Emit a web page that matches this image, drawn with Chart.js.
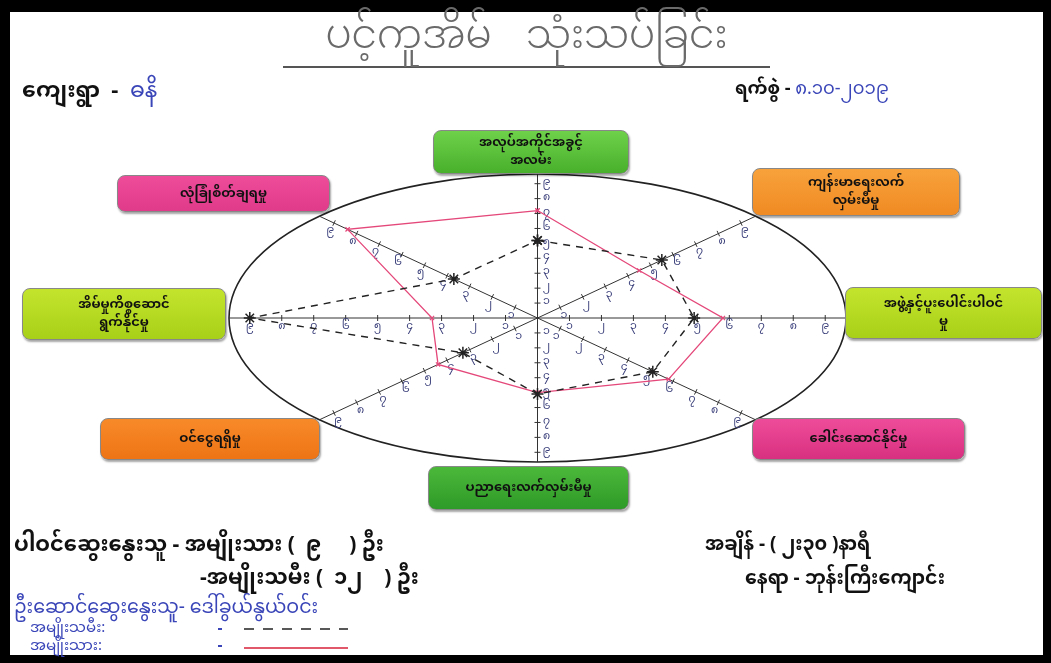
<!DOCTYPE html>
<html lang="my">
<head>
  <meta charset="UTF-8">
  <title>ပင့်ကူအိမ် သုံးသပ်ခြင်း</title>
  <script src="https://cdn.jsdelivr.net/npm/chart.js"></script>
  <style>
    html, body { margin: 0; padding: 0; }
    body { width: 1051px; height: 663px; background: #000; position: relative; overflow: hidden;
           font-family: "Noto Sans Myanmar", "Padauk", "Myanmar Text", "Noto Sans", sans-serif; }
    #paper { position: absolute; left: 10px; top: 12px; width: 1033px; height: 643px; background: #fff; }
    #spider { position: absolute; left: 0; top: 0; }
    .box { position: absolute; border-radius: 8px; border: 1px solid #888; box-shadow: 1px 2px 2px rgba(0,0,0,0.35);
           display: flex; align-items: center; justify-content: center; text-align: center;
           font-size: 13px; font-weight: bold; line-height: 18px; color: #111; }
    .txt { position: absolute; white-space: pre; color: #111; }
    .blue { color: #3a46b8; font-weight: normal; }
  </style>
</head>
<body>
  <div id="paper"></div>
  <canvas id="spider" width="1051" height="663"></canvas>
  <div id="labels"></div>
  <script>
    const categories = [
      'အလုပ်အကိုင်အခွင့်\nအလမ်း',
      'ကျန်းမာရေးလက်\nလှမ်းမီမှု',
      'အဖွဲ့နှင့်ပူးပေါင်းပါဝင်\nမှု',
      'ခေါင်းဆောင်နိုင်မှု',
      'ပညာရေးလက်လှမ်းမီမှု',
      'ဝင်ငွေရရှိမှု',
      'အိမ်မှုကိစ္စဆောင်\nရွက်နိုင်မှု',
      'လုံခြုံစိတ်ချရမှု'
    ];
    const womenValues = [5.2, 5.5, 4.9, 5.1, 5.1, 3.3, 9.0, 3.7];
    const menValues = [7.2, 4.5, 5.8, 5.8, 5.0, 4.4, 3.3, 8.4];
    const tickLabels = ['၁', '၂', '၃', '၄', '၅', '၆', '၇', '၈', '၉'];
    const rimValue = 9.65;

    // label boxes around the web
    const boxes = [
      { left: 433, top: 130, w: 194, h: 42, bg: 'linear-gradient(#6fd14a,#48b02c)' },
      { left: 752, top: 168, w: 206, h: 46, bg: 'linear-gradient(#f8a23c,#f08a22)' },
      { left: 845, top: 287, w: 195, h: 50, bg: 'linear-gradient(#c4e42c,#a8d018)' },
      { left: 752, top: 418, w: 211, h: 40, bg: 'linear-gradient(#ee4c9a,#d83080)' },
      { left: 428, top: 466, w: 199, h: 42, bg: 'linear-gradient(#4cb83a,#2e9a28)' },
      { left: 100, top: 418, w: 218, h: 40, bg: 'linear-gradient(#f88a2a,#ee7414)' },
      { left: 22, top: 288, w: 202, h: 50, bg: 'linear-gradient(#c4e42c,#a8d018)' },
      { left: 117, top: 175, w: 211, h: 35, bg: 'linear-gradient(#ee4c9a,#e03a8a)' }
    ];

    const texts = [
      { x: 22, y: 68, s: 22, b: 1, t: 'ကျေးရွာ  -  <span class="blue">ဓနိ</span>' },
      { x: 735, y: 70, s: 18, b: 1, t: 'ရက်စွဲ - <span class="blue">၈.၁၀-၂၀၁၉</span>' },
      { x: 14, y: 523, s: 21, b: 1, t: 'ပါဝင်ဆွေးနွေးသူ - အမျိုးသား (  ၉     ) ဦး' },
      { x: 200, y: 556, s: 21, b: 1, t: '-အမျိုးသမီး (  ၁၂    ) ဦး' },
      { x: 14, y: 588, s: 19, c: '#3a46b8', t: 'ဦးဆောင်ဆွေးနွေးသူ- ဒေါ်ခွယ်နွယ်ဝင်း' },
      { x: 30, y: 612, s: 15, c: '#3a46b8', t: 'အမျိုးသမီး:' },
      { x: 30, y: 630, s: 15, c: '#3a46b8', t: 'အမျိုးသား:' },
      { x: 705, y: 525, s: 19, b: 1, t: 'အချိန် - ( ၂း၃၀ )နာရီ' },
      { x: 745, y: 559, s: 19, b: 1, t: 'နေရာ - ဘုန်းကြီးကျောင်း' }
    ];

    const holder = document.getElementById('labels');
    categories.forEach((name, i) => {
      const b = boxes[i];
      const el = document.createElement('div');
      el.className = 'box';
      el.style.cssText += `left:${b.left}px;top:${b.top}px;width:${b.w}px;height:${b.h}px;background:${b.bg};`;
      el.innerHTML = name.replace('\n', '<br>');
      holder.appendChild(el);
    });
    texts.forEach(t => {
      const el = document.createElement('div');
      el.className = 'txt';
      el.style.cssText += `left:${t.x}px;top:${t.y}px;font-size:${t.s}px;` +
        (t.c ? `color:${t.c};` : '') + (t.b ? 'font-weight:bold;' : '');
      el.innerHTML = t.t;
      holder.appendChild(el);
    });
    const title = document.createElement('div');
    title.className = 'txt';
    title.style.cssText += 'left:283px;top:12px;width:487px;text-align:center;font-size:40px;word-spacing:24px;' +
      'color:#6a6a6a;font-weight:300;border-bottom:2px solid #555;line-height:54px;';
    title.textContent = 'ပင့်ကူအိမ် သုံးသပ်ခြင်း';
    holder.appendChild(title);

    // polar -> x/y in value units, clockwise from top
    function toXY(values) {
      const pts = values.map((v, i) => {
        const a = i * Math.PI / 4;
        return { x: v * Math.sin(a), y: v * Math.cos(a) };
      });
      pts.push(pts[0]);
      return pts;
    }

    const webPlugin = {
      id: 'web',
      beforeDatasetsDraw(chart) {
        const { ctx, scales: { x, y } } = chart;
        const cx = x.getPixelForValue(0), cy = y.getPixelForValue(0);
        const rx = x.getPixelForValue(rimValue) - cx, ry = cy - y.getPixelForValue(rimValue);
        ctx.save();
        ctx.strokeStyle = '#222';
        ctx.lineWidth = 1.6;
        ctx.beginPath();
        ctx.ellipse(cx, cy, rx, ry, 0, 0, Math.PI * 2);
        ctx.stroke();
        ctx.lineWidth = 1;
        ctx.strokeStyle = '#333';
        ctx.fillStyle = '#3a3f7a';
        ctx.font = '11px "Noto Sans Myanmar", "Padauk", sans-serif';
        ctx.textAlign = 'center';
        ctx.textBaseline = 'middle';
        categories.forEach((_, i) => {
          const a = i * Math.PI / 4;
          const ex = x.getPixelForValue(rimValue * Math.sin(a)), ey = y.getPixelForValue(rimValue * Math.cos(a));
          ctx.beginPath();
          ctx.moveTo(cx, cy);
          ctx.lineTo(ex, ey);
          ctx.stroke();
          const len = Math.hypot(ex - cx, ey - cy);
          let nx = -(ey - cy) / len, ny = (ex - cx) / len;
          // numbers sit below the spoke, or right of it for the vertical ones
          if (i === 0 || i === 4) { nx = Math.abs(nx); ny = 0; }
          else if (ny < 0) { nx = -nx; ny = -ny; }
          tickLabels.forEach((lab, k) => {
            const v = k + 1;
            const px = x.getPixelForValue(v * Math.sin(a)), py = y.getPixelForValue(v * Math.cos(a));
            ctx.beginPath();
            ctx.moveTo(px - nx * 3, py - ny * 3);
            ctx.lineTo(px + nx * 3, py + ny * 3);
            ctx.stroke();
            ctx.fillText(lab, px + nx * 9, py + ny * 10);
          });
        });
        ctx.restore();
      }
    };

    const legendPlugin = {
      id: 'legendLines',
      afterDraw(chart) {
        const ctx = chart.ctx;
        ctx.save();
        ctx.strokeStyle = '#222';
        ctx.lineWidth = 1.5;
        ctx.setLineDash([10, 9]);
        ctx.beginPath(); ctx.moveTo(244, 629); ctx.lineTo(348, 629); ctx.stroke();
        ctx.setLineDash([]);
        ctx.strokeStyle = '#d8203a';
        ctx.beginPath(); ctx.moveTo(244, 648); ctx.lineTo(348, 648); ctx.stroke();
        ctx.fillStyle = '#3a46b8';
        ctx.fillRect(218, 628, 4, 2);
        ctx.fillRect(218, 645, 4, 2);
        ctx.restore();
      }
    };

    new Chart(document.getElementById('spider').getContext('2d'), {
      type: 'scatter',
      data: {
        datasets: [
          {
            label: 'အမျိုးသမီး',
            data: toXY(womenValues),
            showLine: true,
            borderColor: '#222',
            backgroundColor: '#222',
            borderWidth: 1.4,
            borderDash: [7, 6],
            pointStyle: 'star',
            pointRadius: 6,
            pointBorderWidth: 1.5
          },
          {
            label: 'အမျိုးသား',
            data: toXY(menValues),
            showLine: true,
            borderColor: '#e4487a',
            backgroundColor: '#e4487a',
            borderWidth: 1.3,
            pointStyle: 'crossRot',
            pointRadius: 3,
            pointBorderWidth: 1.2
          }
        ]
      },
      options: {
        responsive: false,
        animation: false,
        layout: { padding: { left: 229, right: 205, top: 174, bottom: 201 } },
        plugins: { legend: { display: false }, tooltip: { enabled: false } },
        scales: {
          x: { display: false, min: -rimValue, max: rimValue },
          y: { display: false, min: -rimValue, max: rimValue }
        }
      },
      plugins: [webPlugin, legendPlugin]
    });
  </script>
</body>
</html>
